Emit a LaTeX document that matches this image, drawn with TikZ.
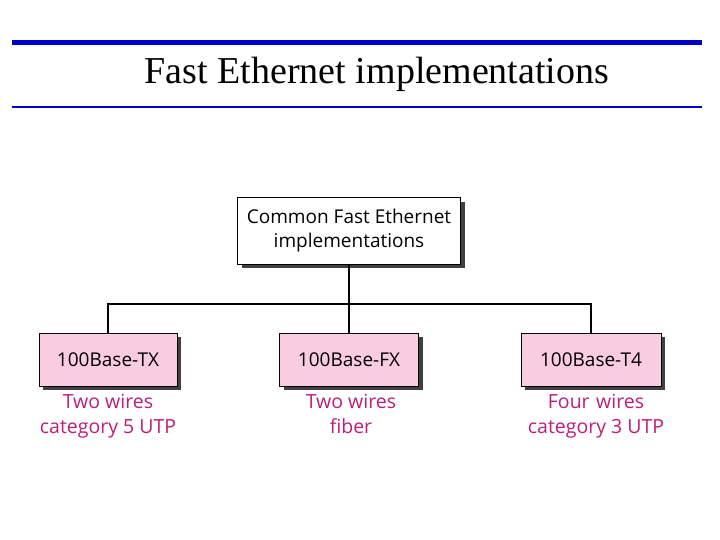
\documentclass[tikz,border=0pt]{standalone}
\usepackage{fontspec}
\usetikzlibrary{shadows}
\setmainfont{Liberation Serif}
\newfontfamily\boxfont{Open Sans}
\definecolor{rulblue}{RGB}{0,0,204}
\definecolor{boxpink}{RGB}{250,204,226}
\definecolor{labmag}{RGB}{190,30,120}
\begin{document}
\begin{tikzpicture}[x=1pt,y=-1pt,
  bx/.style={draw=black,line width=1pt,font=\boxfont\fontsize{19}{24}\selectfont,align=center,inner sep=0pt,
    drop shadow={shadow xshift=4pt,shadow yshift=-4pt,fill=black!75,opacity=1}},
  lab/.style={font=\boxfont\fontsize{19.5}{25}\selectfont,text=labmag,align=center},
  wire/.style={line width=1.5pt}]
\useasboundingbox (0,0) rectangle (720,540);
\draw[rulblue,line width=5pt] (12,43) -- (702,43);
\draw[rulblue,line width=2pt] (12,107) -- (702,107);
\node[font=\fontsize{38}{42}\selectfont] (title) at (377,74) {Fast Ethernet implementations};
\node[bx,fill=white,minimum width=223pt,minimum height=66pt] (top) at (349,231) {Common Fast Ethernet\\implementations};
\node[bx,fill=boxpink,minimum width=138pt,minimum height=53pt] (tx) at (108,359.5) {100Base-TX};
\node[bx,fill=boxpink,minimum width=139pt,minimum height=53pt] (fx) at (349,359.5) {100Base-FX};
\node[bx,fill=boxpink,minimum width=140pt,minimum height=53pt] (t4) at (591,359.5) {100Base-T4};
\node[lab,anchor=north] (ltx) at (108,391) {Two wires\\category 5 UTP};
\node[lab,anchor=north] (lfx) at (351,391) {Two wires\\fiber};
\node[lab,anchor=north] (lt4) at (596,391) {Four\,\,wires\\category 3 UTP};
\coordinate (j) at (349,304);
\draw[wire] (top.south) -- (j);
\draw[wire] (tx.north) |- (j) -| (t4.north);
\draw[wire] (j) -- (fx.north);
\end{tikzpicture}
\end{document}
